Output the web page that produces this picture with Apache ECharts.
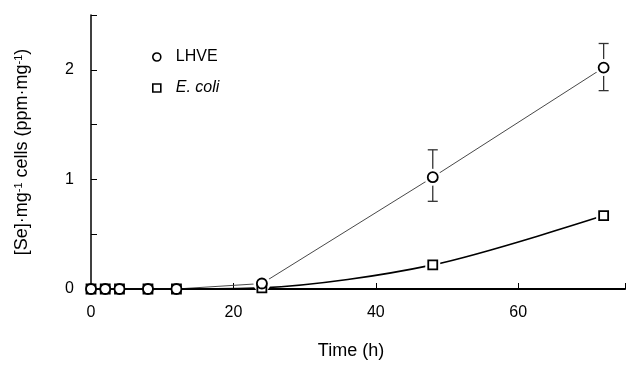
<!DOCTYPE html>
<html>
<head>
<meta charset="utf-8">
<script src="https://cdn.jsdelivr.net/npm/echarts@6/dist/echarts.min.js"></script>
<style>
  html, body { margin: 0; padding: 0; background: #fff; }
  #main { width: 628px; height: 365px; }
</style>
</head>
<body>
<div id="main"></div>
<script>
// sampling times (h)
var times = [0, 2, 4, 8, 12, 24, 48, 72];
// [Se] per mg cells
var lhve = [0, 0, 0, 0, 0, 0.05, 1.02, 2.02];
var ecoli = [0, 0, 0, 0, 0, 0.01, 0.22, 0.67];
// error bars for LHVE
var lhveErrTime = [48, 72];
var lhveErrLow = [0.80, 1.81];
var lhveErrHigh = [1.27, 2.24];

var font = 'Liberation Sans, Arial, sans-serif';

function pairs(xs, ys) {
    var out = [];
    for (var i = 0; i < xs.length; i++) out.push([xs[i], ys[i]]);
    return out;
}
// points off the baseline get a white halo so the line stops short of them
function raised(xs, ys, from) {
    var out = [];
    for (var i = 0; i < xs.length; i++) if (xs[i] > from) out.push([xs[i], ys[i]]);
    return out;
}
var errData = [];
for (var i = 0; i < lhveErrTime.length; i++) {
    errData.push([lhveErrTime[i], lhveErrLow[i], lhveErrHigh[i]]);
}

var option = {
    animation: false,
    backgroundColor: '#fff',
    grid: { left: 91, right: 0, top: 15, bottom: 74 },
    legend: {
        orient: 'vertical',
        left: 147,
        top: 44,
        itemGap: 15,
        itemWidth: 8,
        itemHeight: 8,
        textStyle: { fontFamily: font, fontSize: 16, color: '#000', lineHeight: 16, padding: [0, 0, 0, 10] },
        data: [
            { name: 'LHVE', icon: 'circle', itemStyle: { color: '#fff', borderColor: '#000', borderWidth: 1.6 } },
            { name: 'E. coli', icon: 'rect', itemStyle: { color: '#fff', borderColor: '#000', borderWidth: 1.6 },
              textStyle: { fontStyle: 'italic' } }
        ]
    },
    xAxis: {
        type: 'value',
        min: 0,
        max: 75,
        interval: 20,
        name: 'Time (h)',
        nameLocation: 'middle',
        nameGap: 53,
        nameTextStyle: { fontFamily: font, fontSize: 18, color: '#000', padding: [0, 14, 0, 0] },
        axisLine: { lineStyle: { color: '#000', width: 2 } },
        axisTick: { inside: true, length: 6, lineStyle: { color: '#000', width: 1 } },
        axisLabel: {
            fontFamily: font, fontSize: 16, color: '#000', margin: 16,
            formatter: function (v) { return v % 20 === 0 ? v : ''; }
        },
        splitLine: { show: false }
    },
    yAxis: {
        type: 'value',
        min: 0,
        max: 2.5,
        interval: 0.5,
        name: '[Se]·mg{sup|-1} cells (ppm·mg{sup|-1})',
        nameLocation: 'middle',
        nameGap: 60,
        nameTextStyle: {
            fontFamily: font, fontSize: 18, color: '#000',
            rich: { sup: { fontFamily: font, fontSize: 11, color: '#000', verticalAlign: 'top', padding: [0, 0, 6, 0] } }
        },
        axisLine: { show: true, lineStyle: { color: '#000', width: 1.5 } },
        axisTick: { show: true, inside: true, length: 6, lineStyle: { color: '#000', width: 1 } },
        axisLabel: {
            fontFamily: font, fontSize: 16, color: '#000', margin: 17,
            formatter: function (v) { return v % 1 === 0 ? v : ''; }
        },
        splitLine: { show: false }
    },
    series: [
        {
            name: 'LHVE',
            type: 'line',
            smooth: false,
            showSymbol: false,
            z: 2,
            lineStyle: { color: '#333', width: 0.9 },
            data: pairs(times, lhve)
        },
        {
            name: 'E. coli',
            type: 'line',
            smooth: 0.3,
            showSymbol: false,
            z: 2,
            lineStyle: { color: '#000', width: 1.6 },
            data: pairs(times, ecoli)
        },
        {
            type: 'custom',
            z: 3,
            renderItem: function (params, api) {
                var top = api.coord([api.value(0), api.value(2)]);
                var bot = api.coord([api.value(0), api.value(1)]);
                var w = 5;
                var st = { stroke: '#333', lineWidth: 1.3 };
                return {
                    type: 'group',
                    children: [
                        { type: 'line', shape: { x1: top[0], y1: top[1], x2: bot[0], y2: bot[1] }, style: st },
                        { type: 'line', shape: { x1: top[0] - w, y1: top[1], x2: top[0] + w, y2: top[1] }, style: st },
                        { type: 'line', shape: { x1: bot[0] - w, y1: bot[1], x2: bot[0] + w, y2: bot[1] }, style: st }
                    ]
                };
            },
            data: errData
        },
        {
            type: 'scatter',
            z: 4,
            symbol: 'circle',
            symbolSize: 17,
            silent: true,
            itemStyle: { color: '#fff', opacity: 1 },
            data: raised(times, lhve, 20)
        },
        {
            type: 'scatter',
            z: 4,
            symbol: 'rect',
            symbolSize: 15,
            silent: true,
            itemStyle: { color: '#fff', opacity: 1 },
            data: raised(times, ecoli, 30)
        },
        {
            name: 'E. coli',
            type: 'scatter',
            z: 6,
            symbol: 'rect',
            symbolSize: 9,
            itemStyle: { color: '#fff', borderColor: '#000', borderWidth: 1.8, opacity: 1 },
            data: pairs(times, ecoli)
        },
        {
            name: 'LHVE',
            type: 'scatter',
            z: 7,
            symbol: 'circle',
            symbolSize: 10,
            itemStyle: { color: '#fff', borderColor: '#000', borderWidth: 1.8, opacity: 1 },
            data: pairs(times, lhve)
        }
    ]
};

var myChart = echarts.init(document.getElementById('main'), null, { renderer: 'canvas' });
myChart.setOption(option);
</script>
</body>
</html>
